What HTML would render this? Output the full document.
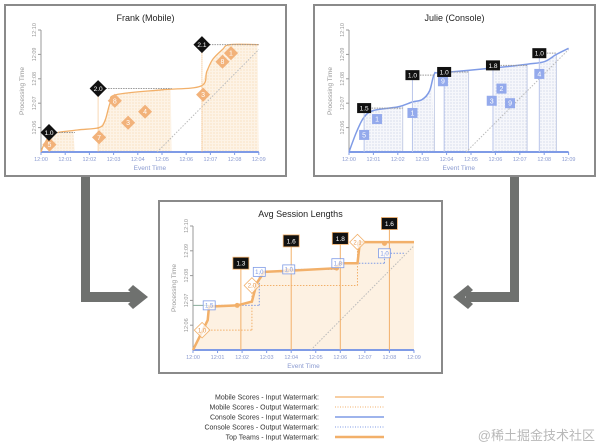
<!DOCTYPE html>
<html><head><meta charset="utf-8"><style>
html,body{margin:0;padding:0;background:#fff;width:600px;height:447px;overflow:hidden}
svg{display:block;font-family:"Liberation Sans","Noto Sans CJK SC",sans-serif}
</style></head><body>
<svg id="s" width="600" height="447" viewBox="0 0 600 447" xmlns="http://www.w3.org/2000/svg">
<defs>
<pattern id="dotO" width="3" height="3" patternUnits="userSpaceOnUse"><rect width="3" height="3" fill="#fdf3e6"/><circle cx="1" cy="1" r="0.5" fill="#f2c894"/></pattern>
<pattern id="dotB" width="3" height="3" patternUnits="userSpaceOnUse"><rect width="3" height="3" fill="#f6f7fb"/><circle cx="1" cy="1" r="0.5" fill="#aab6d8"/></pattern>
</defs>
<g fill="#6f716f">
<rect x="81" y="177" width="9" height="125"/><rect x="81" y="292" width="55" height="10"/>
<polygon points="133,285 148,297 133,309 128,304 136,297 128,290"/>
</g>
<g fill="#6f716f">
<rect x="510" y="177" width="9" height="125"/><rect x="466" y="292" width="53" height="10"/>
<polygon points="468,285 453,297 468,309 473,304 465,297 473,290"/>
</g>
<g id="legend" font-size="7" fill="#333" text-anchor="end"></g>
<text x="595" y="440" text-anchor="end" font-size="13" fill="#b8b8b8">@稀土掘金技术社区</text>
</svg>
<script>
// ---------- data ----------
const xTickLabels = ["12:00","12:01","12:02","12:03","12:04","12:05","12:06","12:07","12:08","12:09"];
const yTickLabels = ["12:06","12:07","12:08","12:09","12:10"];
const frankScores = [[0.35,5.3,"5"],[2.4,5.6,"7"],[3.05,7.1,"8"],[3.6,6.2,"3"],[4.3,6.65,"4"],[6.7,7.35,"3"],[7.5,8.7,"8"],[7.85,9.05,"1"]];
const frankWatermarks = [[0.33,5.8,"1.0",1.4],[2.36,7.6,"2.0",5.4],[6.65,9.4,"2.1",9.0]];
const frankCurve = [[0,5],[0.15,5.35],[0.5,5.75],[1.5,5.9],[2.4,6.0],[2.65,6.3],[2.85,7.0],[3.1,7.35],[5,7.55],[6.6,7.7],[6.85,8.3],[7.1,8.8],[7.5,9.2],[7.8,9.4],[9,9.4]];
const julieScores = [[0.62,5.7,"5"],[1.15,6.35,"1"],[2.6,6.6,"1"],[3.85,7.9,"9"],[5.85,7.1,"3"],[6.25,7.6,"2"],[6.6,7.0,"9"],[7.8,8.2,"4"]];
const julieWatermarks = [[0.62,6.8,"1.5",2.2],[2.6,8.15,"1.0",3.5],[3.9,8.28,"1.0",4.9],[5.9,8.55,"1.8",7.3],[7.8,9.05,"1.0",8.5]];
const julieCurve = [[0,5],[0.3,5.8],[0.6,6.4],[1,6.7],[2,6.85],[2.6,7.05],[3.0,7.15],[3.3,7.5],[3.5,8.2],[3.8,8.25],[6,8.45],[7.3,8.6],[8,8.7],[8.5,9],[9,9.25]];
const avgResults = [[1.8,6.8,"1.3",8.5,1.95],[3.83,8.2,"1.6",9.4,4.0],[5.85,8.3,"1.8",9.5,6.0],[7.8,9.3,"1.6",10.1,8.0]];
const avgConsoleWm = [[0.66,6.8,"1.5"],[2.7,8.15,"1.0"],[3.9,8.25,"1.0"],[5.9,8.5,"1.8"],[7.8,8.9,"1.0"]];
const avgMobileWm = [[0.37,5.8,"1.0"],[2.4,7.6,"2.0"],[6.7,9.35,"2.1"]];
const avgCurve = [[0,5],[0.3,5.6],[0.6,6.2],[0.65,6.75],[1.8,6.8],[2.4,6.95],[2.6,7.7],[2.9,8.15],[4,8.2],[5.85,8.3],[6.0,8.5],[6.7,8.5],[6.8,9.35],[9,9.35]];
const legendLabels = ["Mobile Scores - Input Watermark:","Mobile Scores - Output Watermark:","Console Scores - Input Watermark:","Console Scores - Output Watermark:","Top Teams - Input Watermark:"];

// ---------- helpers ----------
const NS="http://www.w3.org/2000/svg";
const svg=document.getElementById('s');
function mk(tag,attrs,parent){const e=document.createElementNS(NS,tag);for(const k in attrs)e.setAttribute(k,attrs[k]);(parent||svg).appendChild(e);return e;}
const ORANGE="#f2b06a", BLUE="#7f9be6";

function panel(cfg){
  const g=mk('g',{});
  
  
  const box=mk('rect',{x:cfg.bx,y:cfg.by,width:cfg.bw,height:cfg.bh,fill:"#fff",stroke:"#8a8a8a","stroke-width":2},g);
  
  
  const X=v=>cfg.ox+v*cfg.sx, Y=v=>cfg.oy-(v-5)*cfg.sy;
  const t=mk('text',{x:cfg.bx+cfg.bw/2,y:cfg.by+16,"text-anchor":"middle","font-size":9,fill:"#222"},g);t.textContent=cfg.title;
  
  
  return {g,X,Y};
}
function axes(p,cfg,axisColor){
  const {g,X,Y}=p;
  mk('line',{x1:X(0),y1:Y(10),x2:X(0),y2:Y(5),stroke:"#999","stroke-width":1},g);
  const xa=mk('line',{x1:X(0),y1:Y(5),x2:X(9),y2:Y(5),stroke:axisColor||BLUE,"stroke-width":2},g);
  
  
  xTickLabels.forEach((l,i)=>{
    mk('line',{x1:X(i),y1:Y(5),x2:X(i),y2:Y(5)+3,stroke:BLUE},g);
    const tx=mk('text',{x:X(i),y:Y(5)+9,"text-anchor":"middle","font-size":5.5,fill:"#8a9ad0"},g);tx.textContent=l;
    
    
  });
  yTickLabels.forEach((l,i)=>{
    const v=6+i;
    mk('line',{x1:X(0)-3,y1:Y(v),x2:X(0),y2:Y(v),stroke:"#999"},g);
    const tx=mk('text',{x:X(0)-5,y:Y(v),"text-anchor":"middle","font-size":5.5,fill:"#999",transform:`rotate(-90 ${X(0)-5} ${Y(v)})`},g);tx.textContent=l;
    
    
  });
  const xt=mk('text',{x:X(4.5),y:Y(5)+18,"text-anchor":"middle","font-size":6.5,fill:"#8a9ad0"},g);xt.textContent="Event Time";
  
  
  const yx=X(0)-17,yy=Y(7.5);
  const yt=mk('text',{x:yx,y:yy,"text-anchor":"middle","font-size":6.5,fill:"#999",transform:`rotate(-90 ${yx} ${yy})`},g);yt.textContent="Processing Time";
  
  
  mk('line',{x1:X(4.8),y1:Y(5),x2:X(9),y2:Y(9.2),stroke:"#bbb","stroke-dasharray":"1.5,1.5"},g);
}
function pathOf(pts,X,Y){return pts.map((q,i)=>(i?"L":"M")+X(q[0]).toFixed(1)+","+Y(q[1]).toFixed(1)).join("");}
function smoothOf(pts,X,Y){
  const P=pts.map(q=>[X(q[0]),Y(q[1])]);let d="M"+P[0][0].toFixed(1)+","+P[0][1].toFixed(1);
  for(let i=0;i<P.length-1;i++){const p0=P[i-1]||P[i],p1=P[i],p2=P[i+1],p3=P[i+2]||p2;
    const c1=[p1[0]+(p2[0]-p0[0])/6,p1[1]+(p2[1]-p0[1])/6],c2=[p2[0]-(p3[0]-p1[0])/6,p2[1]-(p3[1]-p1[1])/6];
    d+=`C${c1[0].toFixed(1)},${c1[1].toFixed(1)} ${c2[0].toFixed(1)},${c2[1].toFixed(1)} ${p2[0].toFixed(1)},${p2[1].toFixed(1)}`;}
  return d;}
function curveAt(curve,x){for(let i=1;i<curve.length;i++){if(x<=curve[i][0]){const a=curve[i-1],b=curve[i];return a[1]+(b[1]-a[1])*(x-a[0])/((b[0]-a[0])||1);}}return curve[curve.length-1][1];}

// ---------- Frank ----------
{const cfg={name:"frank-mobile-panel",title:"Frank (Mobile)",bx:5,by:5,bw:281,bh:171,ox:41,oy:152,sx:24.2,sy:24.4};
const p=panel(cfg);const {g,X,Y}=p;
frankWatermarks.forEach(w=>{
  const xs=[];for(let x=w[0];x<=w[3];x+=0.1)xs.push([x,curveAt(frankCurve,x)]);
  mk('path',{d:pathOf([[w[0],5],...xs,[w[3],5]],X,Y)+"Z",fill:"url(#dotO)"},g);
});
axes(p,cfg);
mk('path',{d:smoothOf(frankCurve,X,Y),fill:"none",stroke:ORANGE,"stroke-width":1.3},g);
frankWatermarks.forEach(w=>{
  mk('line',{x1:X(w[0]),y1:Y(w[1]),x2:X(w[3]),y2:Y(w[1]),stroke:"#999","stroke-dasharray":"1.5,1"},g);
  mk('line',{x1:X(w[0]),y1:Y(w[1]),x2:X(w[0]),y2:Y(5),stroke:ORANGE,"stroke-dasharray":"1,1"},g);
});
frankScores.forEach(s=>{
  const e=mk('g',{transform:`translate(${X(s[0])},${Y(s[1])})`},g);
  
  
  mk('rect',{x:-5,y:-5,width:10,height:10,fill:"#f2b27a",transform:"rotate(45)"},e);
  const t=mk('text',{y:2.5,"text-anchor":"middle","font-size":7,fill:"#fff"},e);t.textContent=s[2];
});
frankWatermarks.forEach(w=>{
  const e=mk('g',{transform:`translate(${X(w[0])},${Y(w[1])})`},g);
  
  
  mk('rect',{x:-6,y:-6,width:12,height:12,fill:"#111",transform:"rotate(45)"},e);
  const t=mk('text',{y:2.5,"text-anchor":"middle","font-size":6.5,fill:"#fff"},e);t.textContent=w[2];
});}

// ---------- Julie ----------
{const cfg={name:"julie-console-panel",title:"Julie (Console)",bx:314,by:5,bw:281,bh:171,ox:349,oy:152,sx:24.4,sy:24.4};
const p=panel(cfg);const {g,X,Y}=p;
julieWatermarks.forEach(w=>{
  const xs=[];for(let x=w[0];x<=w[3];x+=0.1)xs.push([x,curveAt(julieCurve,x)]);
  mk('path',{d:pathOf([[w[0],5],...xs,[w[3],5]],X,Y)+"Z",fill:"url(#dotB)"},g);
  mk('line',{x1:X(w[3]),y1:Y(5),x2:X(w[3]),y2:Y(curveAt(julieCurve,w[3])),stroke:"#c5cde6"},g);
});
axes(p,cfg);
mk('path',{d:smoothOf(julieCurve,X,Y),fill:"none",stroke:BLUE,"stroke-width":1.5},g);
julieWatermarks.forEach(w=>{
  mk('line',{x1:X(w[0]),y1:Y(w[1]),x2:X(w[3]),y2:Y(w[1]),stroke:"#999","stroke-dasharray":"1.5,1"},g);
  mk('line',{x1:X(w[0]),y1:Y(w[1]),x2:X(w[0]),y2:Y(5),stroke:"#b9c5ea"},g);
});
julieScores.forEach(s=>{
  const e=mk('g',{transform:`translate(${X(s[0])},${Y(s[1])})`},g);
  
  
  mk('rect',{x:-5,y:-5,width:10,height:10,fill:"#94aaec"},e);
  const t=mk('text',{y:2.5,"text-anchor":"middle","font-size":7,fill:"#fff"},e);t.textContent=s[2];
});
julieWatermarks.forEach(w=>{
  const e=mk('g',{transform:`translate(${X(w[0])},${Y(w[1])})`},g);
  
  
  mk('rect',{x:-7,y:-5,width:14,height:10,fill:"#111"},e);
  const t=mk('text',{y:2.5,"text-anchor":"middle","font-size":6.5,fill:"#fff"},e);t.textContent=w[2];
});}

// ---------- Avg ----------
{const cfg={name:"avg-session-panel",title:"Avg Session Lengths",bx:159,by:201,bw:283,bh:172,ox:193,oy:350,sx:24.55,sy:24.8};
const p=panel(cfg);const {g,X,Y}=p;
mk('path',{d:pathOf([[0,5],...avgCurve,[9,5]],X,Y)+"Z",fill:"#fdf1e2"},g);
axes(p,cfg);
mk('line',{x1:X(0),y1:Y(6.8),x2:X(0.66),y2:Y(6.8),stroke:"#8a9"},g);
for(let i=0;i<avgMobileWm.length;i++){const w=avgMobileWm[i],n=avgMobileWm[i+1];const ex=n?n[0]:9;
  mk('line',{x1:X(w[0]),y1:Y(w[1]),x2:X(ex),y2:Y(w[1]),stroke:ORANGE,"stroke-dasharray":"1.5,1.5"},g);
  if(n)mk('line',{x1:X(ex),y1:Y(w[1]),x2:X(ex),y2:Y(n[1]),stroke:ORANGE,"stroke-dasharray":"1.5,1.5"},g);}
for(let i=0;i<avgConsoleWm.length;i++){const w=avgConsoleWm[i],n=avgConsoleWm[i+1];const ex=n?n[0]:8.6;
  mk('line',{x1:X(w[0]),y1:Y(w[1]),x2:X(ex),y2:Y(w[1]),stroke:BLUE,"stroke-dasharray":"1.5,1.5"},g);
  if(n)mk('line',{x1:X(ex),y1:Y(w[1]),x2:X(ex),y2:Y(n[1]),stroke:BLUE,"stroke-dasharray":"1.5,1.5"},g);}
mk('path',{d:pathOf(avgCurve,X,Y),fill:"none",stroke:ORANGE,"stroke-width":2.5},g);
avgResults.forEach(r=>{
  mk('line',{x1:X(r[4]),y1:Y(r[3]),x2:X(r[4]),y2:Y(5),stroke:ORANGE,"stroke-width":1},g);
  mk('circle',{cx:X(r[0]),cy:Y(r[1]),r:2.5,fill:ORANGE},g);
});
avgConsoleWm.forEach(w=>{
  const e=mk('g',{transform:`translate(${X(w[0])},${Y(w[1])})`},g);
  
  
  mk('rect',{x:-6,y:-4.5,width:12,height:9,fill:"#fff","fill-opacity":0.7,stroke:BLUE,"stroke-width":0.8},e);
  const t=mk('text',{y:2.2,"text-anchor":"middle","font-size":6,fill:BLUE},e);t.textContent=w[2];
});
avgMobileWm.forEach(w=>{
  const e=mk('g',{transform:`translate(${X(w[0])},${Y(w[1])})`},g);
  
  
  mk('rect',{x:-5.5,y:-5.5,width:11,height:11,fill:"#fff","fill-opacity":0.7,stroke:ORANGE,"stroke-width":0.8,transform:"rotate(45)"},e);
  const t=mk('text',{y:2.2,"text-anchor":"middle","font-size":6,fill:"#e89a50"},e);t.textContent=w[2];
});
avgResults.forEach(r=>{
  const e=mk('g',{transform:`translate(${X(r[4])},${Y(r[3])})`},g);
  
  
  mk('rect',{x:-8,y:-6,width:16,height:12,fill:"#111",stroke:ORANGE,"stroke-width":0.8},e);
  const t=mk('text',{y:2.5,"text-anchor":"middle","font-size":6.5,fill:"#fff"},e);t.textContent=r[2];
});}

// ---------- legend ----------
{const lg=document.getElementById('legend');
const styles=[{s:ORANGE,w:1.2,d:""},{s:ORANGE,w:1,d:"1,1.5"},{s:BLUE,w:1.5,d:""},{s:BLUE,w:1,d:"1,1.5"},{s:ORANGE,w:2.5,d:""}];
legendLabels.forEach((l,i)=>{const y=397+i*10;
  const t=mk('text',{x:319,y:y+2.3},lg);t.textContent=l;
  
  
  const ln=mk('line',{x1:335,y1:y,x2:384,y2:y,stroke:styles[i].s,"stroke-width":styles[i].w,"stroke-dasharray":styles[i].d||"none"},lg);
  
  
});}
</script>
</body></html>
